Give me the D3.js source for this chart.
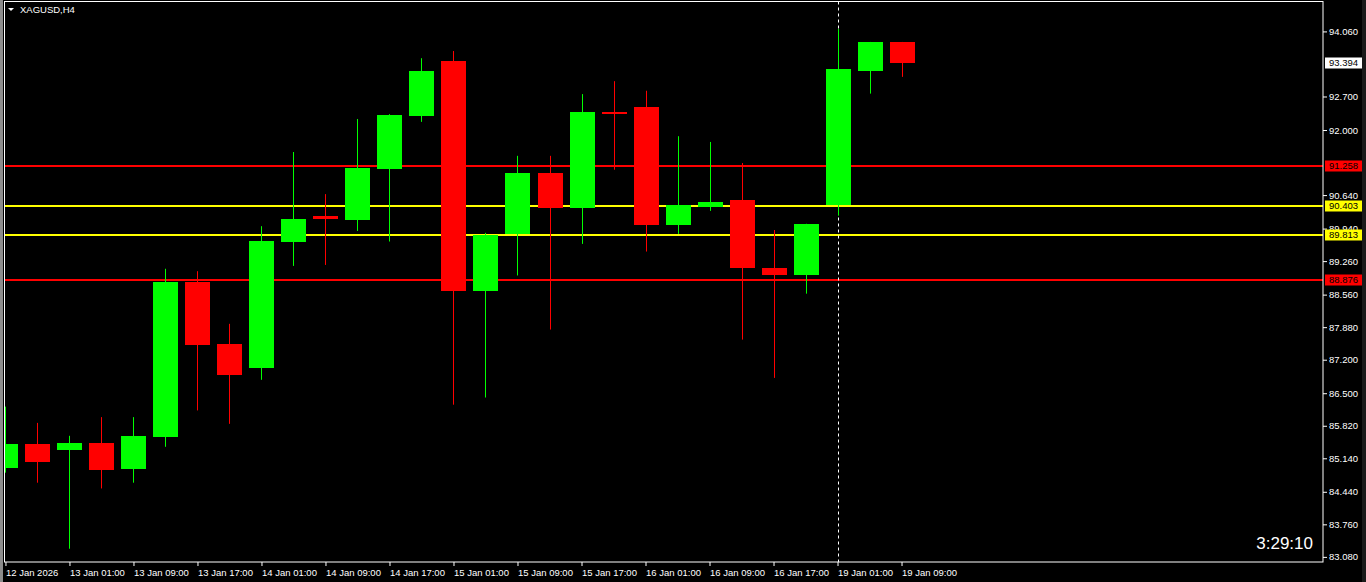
<!DOCTYPE html>
<html>
<head>
<meta charset="utf-8">
<script src="https://cdn.jsdelivr.net/npm/d3@7"></script>
<style>
html,body{margin:0;padding:0;background:#000;overflow:hidden;}
svg{display:block;}
text{font-family:"Liberation Sans",Arial,sans-serif;}
</style>
</head>
<body>
<svg id="chart" width="1366" height="582"></svg>
<script>
// ---- data ----
const categories = [
  "12 Jan 17:00","12 Jan 21:00","13 Jan 01:00","13 Jan 05:00","13 Jan 09:00","13 Jan 13:00","13 Jan 17:00","13 Jan 21:00",
  "14 Jan 01:00","14 Jan 05:00","14 Jan 09:00","14 Jan 13:00","14 Jan 17:00","14 Jan 21:00",
  "15 Jan 01:00","15 Jan 05:00","15 Jan 09:00","15 Jan 13:00","15 Jan 17:00","15 Jan 21:00",
  "16 Jan 01:00","16 Jan 05:00","16 Jan 09:00","16 Jan 13:00","16 Jan 17:00","16 Jan 21:00",
  "19 Jan 01:00","19 Jan 05:00","19 Jan 09:00"
];
const opens  = [84.94,85.44,85.32,85.46,84.92,85.59,88.82,87.53,87.03,89.67,90.20,90.12,91.19,92.29,93.44,88.64,89.82,91.10,90.36,92.38,92.48,90.02,90.39,90.54,89.12,88.98,90.44,93.24,93.84];
const highs  = [86.22,85.88,85.61,86.00,86.00,89.10,89.05,87.95,89.99,91.54,90.66,92.23,92.33,93.50,93.65,89.85,91.46,91.46,92.75,93.02,92.82,91.87,91.75,91.31,89.91,90.04,94.11,93.84,93.84];
const lows   = [84.84,84.63,83.25,84.51,84.63,85.38,86.14,85.86,86.78,89.16,89.18,89.89,89.67,92.17,86.26,86.41,88.96,87.83,89.62,91.17,89.46,89.83,90.31,87.62,86.82,88.58,90.21,92.76,93.11];
const closes = [85.44,85.07,85.46,84.90,85.61,88.82,87.51,86.89,89.68,90.14,90.13,91.21,92.31,93.23,88.64,89.81,91.10,90.36,92.38,92.34,90.02,90.43,90.50,89.12,88.98,90.04,93.27,93.84,93.394];

const priceTicks = [94.060,92.700,92.000,90.640,89.940,89.260,88.560,87.880,87.200,86.500,85.820,85.140,84.440,83.760,83.080];
const timeTickIndex = [0,2,4,6,8,10,12,14,16,18,20,22,24,26,28];
const timeTickLabels = ["12 Jan 2026","13 Jan 01:00","13 Jan 09:00","13 Jan 17:00","14 Jan 01:00","14 Jan 09:00","14 Jan 17:00","15 Jan 01:00","15 Jan 09:00","15 Jan 17:00","16 Jan 01:00","16 Jan 09:00","16 Jan 17:00","19 Jan 01:00","19 Jan 09:00"];

const levelPrices = [91.258, 90.403, 89.813, 88.876];
const levelColors = ["#ff0000", "#ffff00", "#ffff00", "#ff0000"];
const currentPrice = 93.394;
const separatorIndex = 26;
const symbolTitle = "XAGUSD,H4";
const clockText = "3:29:10";

// ---- layout ----
const L = 4.5, R = 1323, T = 1.5, B = 562;
const svg = d3.select("#chart");

const x = d3.scaleLinear().domain([-0.03, 41.17]).range([L, R]);
const y = d3.scaleLinear().domain([82.973, 94.685]).range([B, T]);

// side strips
svg.append("rect").attr("x",0).attr("y",0).attr("width",3).attr("height",582).attr("fill","#8c8c8c");
svg.append("rect").attr("x",1362).attr("y",0).attr("width",4).attr("height",582).attr("fill","#1a1a1a");

const clipId = "plotclip";
svg.append("defs").append("clipPath").attr("id", clipId)
  .append("rect").attr("x", L).attr("y", T).attr("width", R - L).attr("height", B - T);

const plot = svg.append("g").attr("clip-path", `url(#${clipId})`);

// horizontal levels
plot.selectAll("line.level").data(levelPrices).enter().append("line")
  .attr("class","level")
  .attr("x1", L).attr("x2", R)
  .attr("y1", d => Math.round(y(d)) ).attr("y2", d => Math.round(y(d)) )
  .attr("stroke", (d,i) => levelColors[i]).attr("stroke-width", 2);

// separator
plot.append("line")
  .attr("x1", Math.round(x(separatorIndex)) + 0.5).attr("x2", Math.round(x(separatorIndex)) + 0.5)
  .attr("y1", T).attr("y2", B)
  .attr("stroke", "#ffffff").attr("stroke-width", 1).attr("stroke-dasharray", "3,3");

// candles
const candles = categories.map((c, i) => ({i, o: opens[i], h: highs[i], l: lows[i], c: closes[i]}));
const col = d => d.c >= d.o ? "#00ff00" : "#ff0000";
const cx = d => Math.round(x(d.i)) + 0.5;

plot.selectAll("line.wick").data(candles).enter().append("line")
  .attr("class","wick")
  .attr("x1", cx).attr("x2", cx)
  .attr("y1", d => y(d.h)).attr("y2", d => y(d.l))
  .attr("stroke", col).attr("stroke-width", 1);

plot.selectAll("rect.body").data(candles).enter().append("rect")
  .attr("class","body")
  .attr("x", d => cx(d) - 12.5)
  .attr("width", 25)
  .attr("y", d => Math.round(y(Math.max(d.o, d.c))))
  .attr("height", d => Math.max(2, Math.round(y(Math.min(d.o, d.c))) - Math.round(y(Math.max(d.o, d.c)))))
  .attr("fill", col);

// border
svg.append("rect").attr("x", L).attr("y", T).attr("width", R - L).attr("height", B - T)
  .attr("fill","none").attr("stroke","#ffffff").attr("stroke-width",1);

// right price axis
const yAxis = d3.axisRight(y).tickValues(priceTicks).tickSize(4).tickFormat(d3.format(".3f"));
const gy = svg.append("g").attr("transform", `translate(${R},0)`).call(yAxis);
gy.select(".domain").remove();
gy.selectAll(".tick line").attr("stroke","#ffffff");
gy.selectAll(".tick text").attr("fill","#ffffff").attr("x", 6).attr("font-size", "9.5px")
  .attr("font-family","Liberation Sans, Arial, sans-serif");

// bottom time axis
const xAxis = d3.axisBottom(x).tickValues(timeTickIndex).tickSize(4)
  .tickFormat((d, k) => timeTickLabels[k]);
const gx = svg.append("g").attr("transform", `translate(0,${B})`).call(xAxis);
gx.select(".domain").remove();
gx.selectAll(".tick line").attr("stroke","#ffffff");
gx.selectAll(".tick text").attr("fill","#ffffff").attr("text-anchor","start")
  .attr("x", 0).attr("y", 7).attr("dy", "0.71em").attr("font-size","9.5px")
  .attr("font-family","Liberation Sans, Arial, sans-serif");

// price labels (boxes)
const boxes = levelPrices.map((p, i) => ({p, bg: levelColors[i]})).concat([{p: currentPrice, bg: "#ffffff"}]);
const bg = svg.append("g");
bg.selectAll("rect").data(boxes).enter().append("rect")
  .attr("x", R + 2).attr("width", 37)
  .attr("y", d => Math.round(y(d.p)) - 5.5).attr("height", 11)
  .attr("fill", d => d.bg);
bg.selectAll("text").data(boxes).enter().append("text")
  .attr("x", R + 6).attr("y", d => Math.round(y(d.p)))
  .attr("dy", "0.35em").attr("font-size","9.5px").attr("fill","#000000")
  .text(d => d3.format(".3f")(d.p));

// title
svg.append("path").attr("d", "M8,8 L14,8 L11,11 Z").attr("fill", "#ffffff");
svg.append("text").attr("x", 20).attr("y", 13).attr("font-size","9.5px").attr("fill","#ffffff").text(symbolTitle);

// clock
svg.append("text").attr("x", 1313).attr("y", 549).attr("text-anchor","end")
  .attr("font-size","17px").attr("fill","#ffffff").text(clockText);
</script>
</body>
</html>
